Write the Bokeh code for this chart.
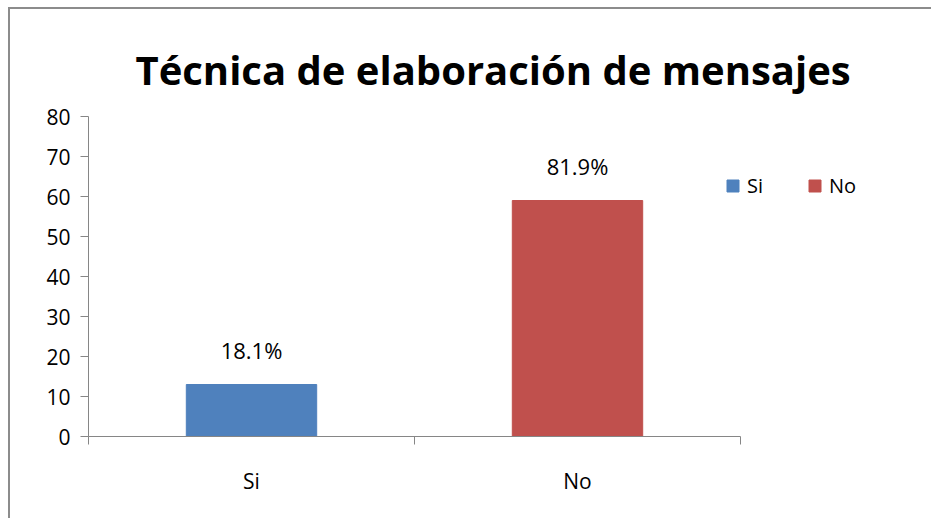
from bokeh.plotting import figure
from bokeh.models import (Range1d, FixedTicker, LinearAxis, Legend, LegendItem,
                          ColumnDataSource, LabelSet, Title)
from bokeh.core.properties import value
from bokeh.embed import file_html
from bokeh.resources import INLINE

title_text = "Técnica de elaboración de mensajes"
categories = ["Si", "No"]
counts = [13, 59]
percent_labels = ["18.1%", "81.9%"]
colors = ["#4F81BD", "#C0504D"]
y_ticks = [0, 10, 20, 30, 40, 50, 60, 70, 80]

FONT = "Open Sans"
AXIS_COLOR = "#868686"

n = len(categories)
x_pos = [i + 0.5 for i in range(n)]
bounds = list(range(n + 1))
src = ColumnDataSource(dict(x=x_pos, top=counts, cat=categories,
                            lab=percent_labels, color=colors))

# frame extends past the category axis so the legend (inside the frame) is not clipped
p = figure(width=923, height=511, output_backend="svg", toolbar_location=None,
           x_range=Range1d(0, n * 1.25), y_range=Range1d(y_ticks[0], y_ticks[-1]),
           min_border_left=78, min_border_right=30, min_border_top=107,
           min_border_bottom=84, x_axis_type=None, y_axis_type=None)
p.outline_line_color = None
p.margin = (7, 0, 0, 8)
p.styles = {"border-left": "2px solid #8c8c8c", "border-top": "2px solid #8c8c8c"}

p.title = Title(text=title_text, align="left", offset=47, standoff=40,
                text_font=FONT, text_font_size="40px", text_font_style="bold",
                text_color="black")

yaxis = LinearAxis(ticker=FixedTicker(ticks=y_ticks))
yaxis.axis_line_color = AXIS_COLOR
yaxis.major_tick_line_color = AXIS_COLOR
yaxis.major_tick_out = 8
yaxis.major_tick_in = 0
yaxis.minor_tick_line_color = None
yaxis.major_label_text_font = FONT
yaxis.major_label_text_font_size = "21px"
yaxis.major_label_text_color = "black"
yaxis.major_label_standoff = 10
p.add_layout(yaxis, "left")

xaxis = LinearAxis(ticker=FixedTicker(ticks=x_pos, minor_ticks=bounds),
                   bounds=(0, n))
xaxis.major_label_overrides = {xp: c for xp, c in zip(x_pos, categories)}
xaxis.axis_line_color = AXIS_COLOR
xaxis.major_tick_line_color = None
xaxis.minor_tick_line_color = AXIS_COLOR
xaxis.minor_tick_out = 8
xaxis.minor_tick_in = 0
xaxis.major_label_text_font = FONT
xaxis.major_label_text_font_size = "21px"
xaxis.major_label_text_color = "black"
xaxis.major_label_standoff = 22
p.add_layout(xaxis, "below")

r = p.vbar(x="x", top="top", width=0.4, color="color", source=src)

labels = LabelSet(x="x", y="top", text="lab", source=src, text_align="center",
                  text_baseline="bottom", y_offset=20, text_font=value(FONT),
                  text_font_size=value("22px"), text_color="black")
p.add_layout(labels)

legend = Legend(items=[LegendItem(label=c, renderers=[r], index=i)
                       for i, c in enumerate(categories)],
                orientation="horizontal", location=(637, 237),
                glyph_width=15, glyph_height=15, label_standoff=7, spacing=40,
                padding=0, margin=0, border_line_color=None,
                background_fill_alpha=0, label_text_font=FONT,
                label_text_font_size="20px", label_text_color="black")
p.add_layout(legend)

open("out.html", "w").write(file_html(p, INLINE))
